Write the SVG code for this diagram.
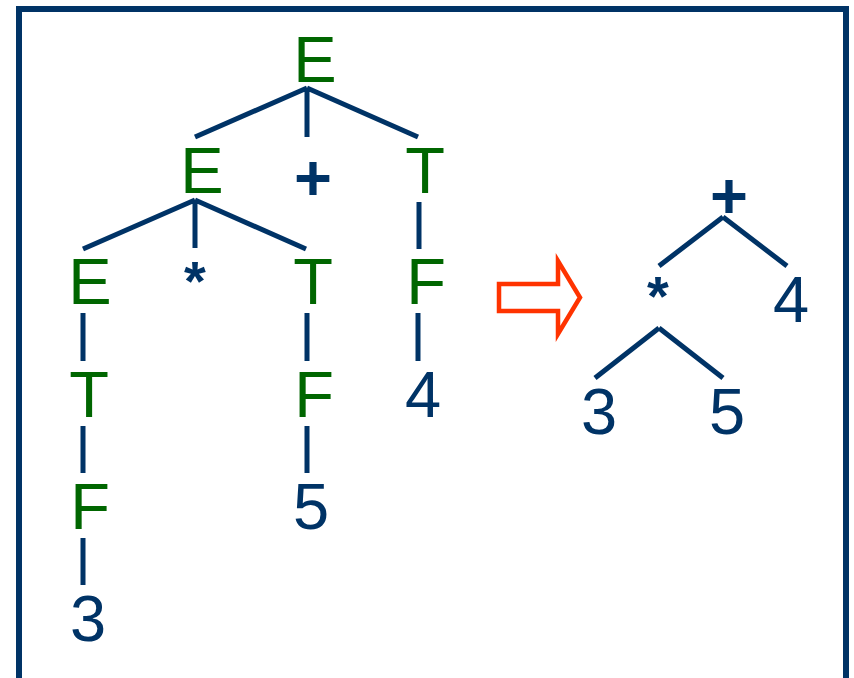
<svg xmlns="http://www.w3.org/2000/svg" width="854" height="678" viewBox="0 0 854 678">
  <style>
    .nt { font-family: "Liberation Sans", Arial, sans-serif; font-size: 65px; fill: #006600; text-anchor: middle; }
    .tm { font-family: "Liberation Sans", Arial, sans-serif; font-size: 65px; fill: #003366; text-anchor: middle; }
    .op { font-family: "Liberation Sans", Arial, sans-serif; font-size: 65px; font-weight: bold; fill: #003366; text-anchor: middle; }
    .st { font-family: "Liberation Sans", Arial, sans-serif; font-size: 56px; font-weight: bold; fill: #003366; text-anchor: middle; }
    .edge { stroke: #003366; stroke-width: 5; fill: none; }
  </style>

  <!-- frame -->
  <rect x="19" y="9" width="827" height="690" fill="#ffffff" stroke="#003366" stroke-width="6"/>

  <!-- parse tree edges and syntax tree edges -->
  <g id="connectors" class="edge">
    <path d="M307 88 L195 137 M307 88 L307 137 M307 88 L418 137"/>
    <path d="M195 200 L83 249 M195 200 L195 248 M195 200 L306 249"/>
    <path d="M419 202 L419 249"/>
    <path d="M83 313 L83 361 M83 426 L83 473 M83 538 L83 585"/>
    <path d="M307 313 L307 361 M307 426 L307 473"/>
    <path d="M418 313 L418 361"/>
    <path d="M723 217 L659 266 M723 217 L787 266"/>
    <path d="M659 328 L595 378 M659 328 L723 378"/>
  </g>

  <!-- parse tree -->
  <g id="p-E0"><text class="nt" x="315" y="82">E</text></g>
  <g id="p-E1"><text class="nt" x="202" y="193">E</text></g>
  <g id="p-plus"><text class="op" x="313" y="200">+</text></g>
  <g id="p-T1"><text class="nt" x="425" y="193">T</text></g>
  <g id="p-E2"><text class="nt" x="90" y="304">E</text></g>
  <g id="p-star"><text class="st" x="195" y="300">*</text></g>
  <g id="p-T2"><text class="nt" x="313" y="304">T</text></g>
  <g id="p-F2"><text class="nt" x="426" y="304">F</text></g>
  <g id="p-T3"><text class="nt" x="89" y="417">T</text></g>
  <g id="p-F3"><text class="nt" x="314" y="417">F</text></g>
  <g id="p-4"><text class="tm" x="423" y="417">4</text></g>
  <g id="p-F4"><text class="nt" x="90" y="529">F</text></g>
  <g id="p-5"><text class="tm" x="311" y="529">5</text></g>
  <g id="p-3"><text class="tm" x="88" y="641">3</text></g>

  <!-- transformation arrow -->
  <g id="arrow">
    <polygon points="499,284 558,284 558,261 580,297.5 558,334 558,311 499,311" fill="#ffffff" stroke="#ff3300" stroke-width="4.5"/>
  </g>

  <!-- syntax tree -->
  <g id="s-plus"><text class="op" x="729" y="218">+</text></g>
  <g id="s-star"><text class="st" x="658" y="315">*</text></g>
  <g id="s-4"><text class="tm" x="791" y="322">4</text></g>
  <g id="s-3"><text class="tm" x="599" y="434">3</text></g>
  <g id="s-5"><text class="tm" x="727" y="434">5</text></g>
</svg>
